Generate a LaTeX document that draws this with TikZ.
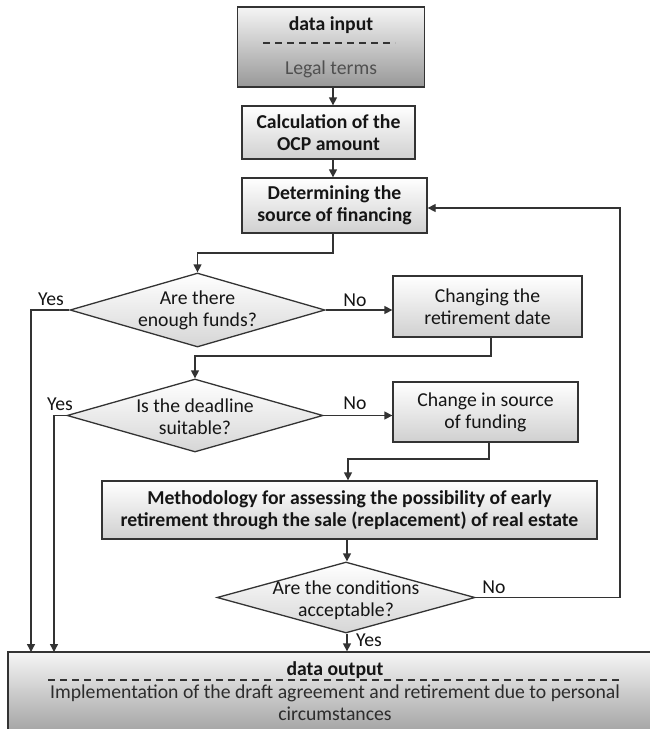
\documentclass[tikz,border=0pt]{standalone}
\usepackage{fontspec}
\setmainfont{Carlito}
\usetikzlibrary{shapes.geometric,arrows.meta,calc}
\definecolor{linec}{HTML}{333333}
\definecolor{txtc}{HTML}{151515}
\definecolor{boxbot}{HTML}{D0D0D0}
\definecolor{darkbot}{HTML}{989898}
\definecolor{diabot}{HTML}{D6D6D6}
\begin{document}
\begin{tikzpicture}[x=1pt,y=-1pt,
  font=\fontsize{19.7}{22}\selectfont,
  box/.style={draw=linec, line width=1.3pt, rectangle, inner sep=0pt,
    top color=white, bottom color=boxbot},
  darkbox/.style={box, top color=white!96!black, bottom color=darkbot},
  dia/.style={draw=linec, line width=1.3pt, diamond, inner sep=0pt,
    top color=white, bottom color=diabot},
  txt/.style={text=txtc, align=center, inner sep=0pt},
  btxt/.style={txt, font=\fontsize{19.7}{22}\selectfont\bfseries},
  lbl/.style={text=txtc, inner sep=0pt},
  conn/.style={draw=linec, line width=1.3pt},
  arr/.style={conn, -{Triangle[length=8pt,width=8pt]}},
  sep/.style={draw=linec, line width=1.3pt, dash pattern=on 7pt off 5pt}
]
\clip (0,0) rectangle (650,729);
\fill[white] (0,0) rectangle (650,729);

% boxes
\node[darkbox, minimum width=187pt, minimum height=80pt] (B1) at (331,47) {};
\node[btxt] (B1a) at (331,25) {data input};
\node[txt, text=txtc!75!white] (B1b) at (331,69) {Legal terms};
\coordinate (s1l) at (263,43);
\coordinate (s1r) at (395,43);
\draw[sep] (s1l) -- (s1r);

\node[box, minimum width=173pt, minimum height=53pt] (B2) at (328.5,132.5) {};
\node[btxt] (B2t) at (B2) {Calculation of the\\OCP amount};

\node[box, minimum width=185pt, minimum height=55pt] (B3) at (334.5,205.5) {};
\node[btxt] (B3t) at (B3) {Determining the\\source of financing};

\node[dia, minimum width=255pt, minimum height=74pt] (D1) at (197.5,310) {};
\node[txt] (D1t) at (197.5,310) {Are there\\enough funds?};

\node[box, minimum width=189pt, minimum height=61pt] (C1) at (487.5,306.5) {};
\node[txt] (C1t) at (C1) {Changing the\\retirement date};

\node[dia, minimum width=256pt, minimum height=73pt] (D2) at (195,415.5) {};
\node[txt] (D2t) at (195,417) {Is the deadline\\suitable?};

\node[box, minimum width=185pt, minimum height=60pt] (C2) at (485.5,412) {};
\node[txt] (C2t) at (C2) {Change in source\\of funding};

\node[box, minimum width=495pt, minimum height=58pt] (M) at (349.5,510) {};
\node[btxt] (Mt) at (M) {Methodology for assessing the possibility of early\\retirement through the sale (replacement) of real estate};

\node[dia, minimum width=258pt, minimum height=71pt] (D3) at (346,597.5) {};
\node[txt] (D3t) at (346,600.5) {Are the conditions\\acceptable?};

\node[darkbox, minimum width=654pt, minimum height=92pt] (O) at (335,698) {};
\node[btxt] (Oa) at (335,670) {data output};
\coordinate (s2l) at (48,680);
\coordinate (s2r) at (621,680);
\draw[sep] (s2l) -- (s2r);
\node[txt, text=txtc!90!white] (Ob) at (335,703) {Implementation of the draft agreement and retirement due to personal\\circumstances};

% connectors
\draw[arr] (B1.south -| 333,0) -- (B2.north -| 333,0);
\draw[arr] (B2.south -| 333,0) -- (B3.north -| 333,0);
\draw[arr] (B3.south -| 333,0) -- (333,253) -- (D1.north |- 0,253) -- (D1.north);

\draw[arr] (D1.west) -- (31,310) -- (31,652);
\draw[arr] (D1.east) -- (C1.west |- D1.east);
\draw[arr] (C1.south -| 491,0) -- (491,356) -- (D2.north |- 0,356) -- (D2.north);

\draw[arr] (D2.west) -- (54,415.5) -- (54,652);
\draw[arr] (D2.east) -- (C2.west |- D2.east);
\draw[arr] (C2.south -| 489,0) -- (489,459) -- (348,459) -- (M.north -| 348,0);

\draw[arr] (M.south -| 347,0) -- (D3.north -| 347,0);
\draw[arr] (D3.south -| 347,0) -- (O.north -| 347,0);
\draw[arr] (D3.east) -- (620,597.5) -- (620,208) -- (B3.east |- 0,208);

% labels
\node[lbl] (y1) at (51,299) {Yes};
\node[lbl] (n1) at (355,300) {No};
\node[lbl] (y2) at (60,404) {Yes};
\node[lbl] (n2) at (355,403) {No};
\node[lbl] (y3) at (369,640) {Yes};
\node[lbl] (n3) at (494,587) {No};
\end{tikzpicture}
\end{document}
